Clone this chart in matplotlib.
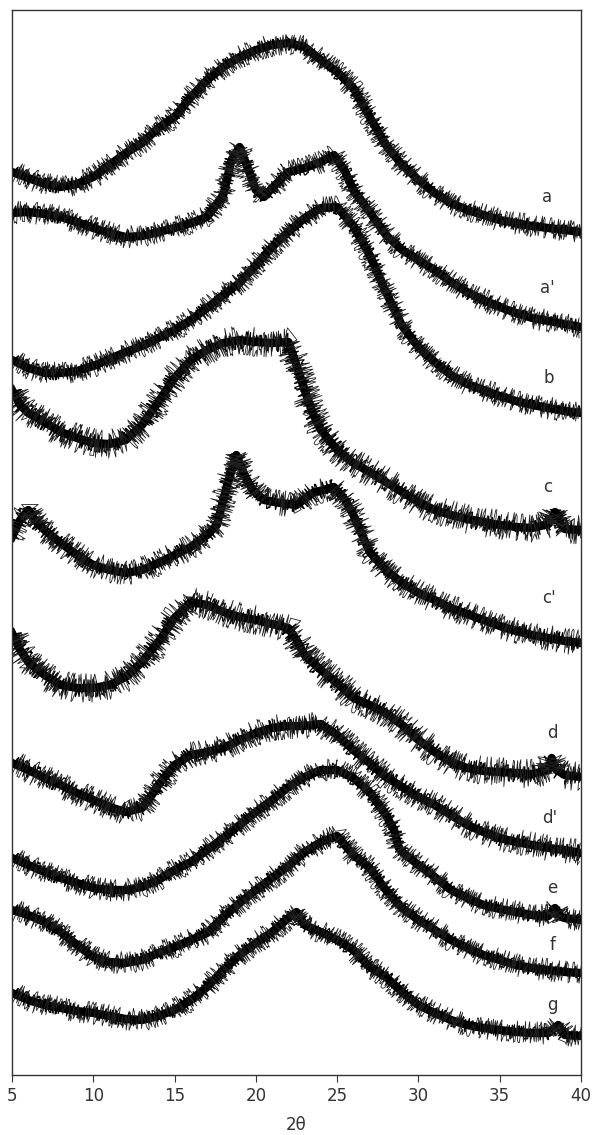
import numpy as np
import matplotlib
matplotlib.use("Agg")
import matplotlib.pyplot as plt

# XRD patterns, offset intensity (a.u.)
x_a = [5, 6, 7, 8, 9, 10, 11, 12, 13, 14, 15, 16, 17, 18, 19, 20, 21, 22, 23, 24, 25, 26, 27, 28, 29, 30,
       31, 32, 33, 34, 35, 36, 37, 38, 39, 40]
y_a = [903, 897, 891, 888, 891, 898, 910, 922, 932, 947, 958, 978, 995, 1008, 1018, 1025, 1030, 1032, 1028,
       1015, 1003, 987, 958, 930, 910, 895, 882, 872, 865, 860, 855, 852, 849, 847, 845, 843]

x_a2 = [5, 6, 7, 8, 9, 10, 11, 12, 13, 14, 15, 16, 17, 18, 18.5, 19, 19.5, 20, 20.5, 21, 22, 23, 24, 24.8,
        25.5, 26, 27, 28, 29, 30, 31, 32, 33, 34, 35, 36, 37, 38, 39, 40]
y_a2 = [862, 863, 861, 858, 853, 847, 842, 838, 839, 843, 847, 852, 858, 880, 915, 928, 907, 885, 878, 887,
        903, 907, 913, 920, 903, 885, 863, 840, 825, 815, 805, 793, 783, 775, 768, 762, 757, 754, 751, 748]

x_b = [5, 6, 7, 8, 9, 10, 11, 12, 13, 14, 15, 16, 17, 18, 19, 20, 21, 22, 23, 24, 25, 26, 27, 28, 29, 30,
       31, 32, 33, 34, 35, 36, 37, 38, 39, 40]
y_b = [715, 707, 702, 702, 704, 709, 716, 723, 729, 737, 745, 755, 767, 780, 792, 810, 828, 843, 857, 867,
       868, 849, 820, 783, 749, 728, 713, 700, 691, 685, 679, 674, 670, 667, 664, 662]

x_c = [5, 5.5, 6, 7, 8, 9, 10, 11, 12, 13, 14, 15, 16, 17, 18, 19, 20, 21, 22, 22.5, 23, 23.5, 24, 25, 26,
       27, 28, 29, 30, 31, 32, 33, 34, 35, 36, 37, 38, 38.4, 38.8, 39, 40]
y_c = [685, 670, 662, 653, 643, 637, 632, 631, 635, 650, 673, 697, 715, 725, 732, 735, 733, 732, 733, 710,
       685, 662, 645, 625, 612, 603, 593, 583, 573, 565, 560, 556, 553, 550, 548, 547, 551, 563, 550, 546, 545]

x_c2 = [5, 5.5, 6, 6.5, 7, 8, 9, 10, 11, 12, 13, 14, 15, 16, 17, 17.6, 18.2, 18.8, 19.3, 19.8, 20.5, 21.5,
        22.5, 23.5, 24.8, 25.5, 26, 27, 28, 29, 30, 31, 32, 33, 34, 35, 36, 37, 38, 39, 40]
y_c2 = [538, 555, 565, 553, 545, 532, 520, 510, 505, 502, 505, 512, 520, 528, 540, 550, 588, 620, 600, 585,
        575, 572, 570, 582, 588, 575, 560, 523, 505, 492, 482, 475, 467, 461, 455, 449, 444, 440, 437, 434, 432]

x_d = [5, 5.5, 6, 7, 8, 9, 10, 11, 12, 13, 14, 15, 16, 17, 18, 19, 20, 21, 22, 22.5, 23, 24, 25, 26, 27,
       28, 29, 30, 31, 32, 33, 34, 35, 36, 37, 38, 38.2, 38.5, 39, 40]
y_d = [442, 425, 413, 400, 390, 387, 387, 390, 398, 413, 433, 457, 473, 470, 463, 458, 455, 451, 447, 435,
       420, 405, 392, 377, 370, 362, 350, 335, 323, 313, 307, 304, 303, 302, 301, 305, 317, 305, 300, 298]

x_d2 = [5, 6, 7, 8, 9, 10, 11, 12, 13, 13.6, 14, 15, 16, 17, 18, 19, 20, 21, 22, 23, 24, 25, 26, 27, 28,
        29, 30, 31, 32, 33, 34, 35, 36, 37, 38, 39, 40]
y_d2 = [312, 305, 297, 290, 282, 275, 268, 263, 267, 280, 290, 310, 320, 323, 327, 335, 342, 347, 349, 349,
        351, 340, 325, 312, 298, 288, 278, 270, 260, 250, 243, 237, 233, 230, 227, 225, 222]

x_e = [5, 6, 7, 8, 9, 10, 11, 12, 13, 14, 15, 16, 17, 18, 19, 20, 21, 22, 23, 24, 25, 26, 27, 28, 28.5,
       28.8, 29, 30, 31, 32, 33, 34, 35, 36, 37, 38, 38.4, 38.8, 39, 40]
y_e = [217, 210, 203, 197, 192, 187, 185, 185, 188, 195, 205, 213, 225, 237, 250, 263, 275, 288, 298, 305,
       305, 297, 283, 260, 245, 227, 223, 210, 198, 185, 177, 170, 166, 163, 160, 159, 167, 158, 157, 155]

x_f = [5, 6, 7, 8, 9, 10, 11, 12, 13, 14, 15, 16, 17, 18, 19, 20, 21, 22, 23, 24, 25, 26, 27, 28, 29, 30,
       31, 32, 33, 34, 35, 36, 37, 38, 39, 40]
y_f = [165, 160, 153, 143, 130, 118, 113, 112, 115, 122, 128, 135, 142, 158, 172, 185, 197, 209, 223, 233,
       239, 220, 207, 185, 167, 155, 145, 135, 127, 120, 115, 110, 107, 105, 103, 102]

x_g = [5, 6, 7, 8, 9, 10, 11, 12, 13, 14, 15, 16, 17, 18, 19, 20, 21, 22, 22.5, 23, 24, 25, 26, 27, 28, 29,
       30, 31, 32, 33, 34, 35, 36, 37, 38, 38.6, 39, 40]
y_g = [82, 75, 70, 67, 64, 62, 59, 56, 55, 59, 65, 75, 88, 105, 120, 132, 143, 157, 163, 150, 143, 135, 125,
       108, 98, 83, 70, 62, 55, 50, 47, 45, 43, 42, 42, 50, 40, 39]

names = ["a", "a'", "b", "c", "c'", "d", "d'", "e", "f", "g"]
xs = [x_a, x_a2, x_b, x_c, x_c2, x_d, x_d2, x_e, x_f, x_g]
ys = [y_a, y_a2, y_b, y_c, y_c2, y_d, y_d2, y_e, y_f, y_g]
# where the sample names sit (2theta, intensity)
lab_x = [37.9, 37.95, 38.0, 37.95, 38.05, 38.25, 38.1, 38.25, 38.25, 38.25]
lab_y = [878, 787, 697, 588, 477, 342, 257, 187, 130, 70]
# how rough each trace looks
rough = [7, 7, 7, 9, 8, 9, 8, 7, 7, 7]

fig = plt.figure(figsize=(5.92, 11.35), dpi=100)
ax = fig.add_axes([12 / 592, 1 - 1075 / 1135, 569 / 592, 1065 / 1135])

for x, y, s in zip(xs, ys, rough):
    ax.plot(x, y, color="black", lw=6.0, solid_joinstyle="round")
    l1, = ax.plot(x, y, color="black", lw=0.9)
    l1.set_sketch_params(scale=s, length=1.0, randomness=6)
    l2, = ax.plot(x, y, color="#222222", lw=0.6)
    l2.set_sketch_params(scale=s * 1.6, length=1.5, randomness=10)

for n, tx, ty in zip(names, lab_x, lab_y):
    ax.text(tx, ty, n, fontsize=12, ha="center", va="center", color="#333333")

ax.set_xlim(5, 40)
ax.set_ylim(0, 1065)
ax.set_xticks([5, 10, 15, 20, 25, 30, 35, 40])
ax.set_yticks([])
ax.tick_params(axis="x", direction="out", length=5, labelsize=12, colors="#333333")
for sp in ax.spines.values():
    sp.set_color("#333333")
    sp.set_linewidth(1.0)
ax.set_xlabel("2θ", fontsize=12, color="#333333", labelpad=8)

fig.savefig("out.png", dpi=100)
